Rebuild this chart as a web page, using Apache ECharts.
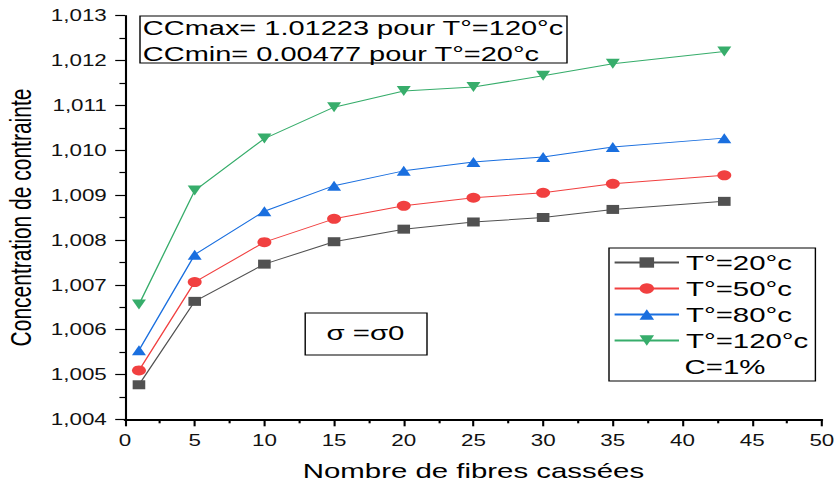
<!DOCTYPE html>
<html>
<head>
<meta charset="utf-8">
<script src="https://cdn.jsdelivr.net/npm/echarts@6/dist/echarts.min.js"></script>
<style>
html,body{margin:0;padding:0;background:#fff;}
#wrap{width:837px;height:486px;overflow:hidden;position:relative;}
#chart{height:486px;transform-origin:0 0;position:absolute;left:0;top:0;}
</style>
</head>
<body>
<div id="wrap"><div id="chart"></div></div>
<script>
// Data
var fibres = [1, 5, 10, 15, 20, 25, 30, 35, 43];
var seriesNames = ['T°=20°c', 'T°=50°c', 'T°=80°c', 'T°=120°c'];
var t20  = [1.00477, 1.00663, 1.00746, 1.00796, 1.00824, 1.00840, 1.00850, 1.00868, 1.00886];
var t50  = [1.00509, 1.00706, 1.00795, 1.00847, 1.00876, 1.00894, 1.00905, 1.00925, 1.00944];
var t80  = [1.00554, 1.00767, 1.00864, 1.00921, 1.00954, 1.00974, 1.00985, 1.01007, 1.01027];
var t120 = [1.00656, 1.00910, 1.01026, 1.01096, 1.01132, 1.01141, 1.01166, 1.01193, 1.01220];
var colors = ['#515151', '#F14040', '#1A6FDF', '#37AD6B'];
var symbols = ['rect', 'circle', 'triangle', 'triangle'];
var symbolRotates = [0, 0, 0, 180];
var annotationLines = ['CCmax= 1.01223 pour T°=120°c', 'CCmin= 0.00477 pour T°=20°c'];
var sigmaText = 'σ =σ0';
var legendExtra = 'C=1%';
var xAxisTitle = 'Nombre de fibres cassées';
var yAxisTitle = 'Concentration de contrainte';

var S = 1.4; // horizontal stretch of the reference
var W = 837 / S;
var el = document.getElementById('chart');
el.style.width = W + 'px';
el.style.transform = 'scaleX(' + S + ')';

var allValues = [t20, t50, t80, t120];
var font = 'Liberation Sans, Arial, sans-serif';

var series = allValues.map(function (vals, i) {
  return {
    name: seriesNames[i],
    type: 'line',
    data: fibres.map(function (x, j) { return [x, vals[j]]; }),
    symbol: symbols[i],
    symbolRotate: symbolRotates[i],
    symbolSize: i === 0 ? 9 : 10,
    itemStyle: { color: colors[i] },
    lineStyle: { color: colors[i], width: 1 },
    emphasis: { disabled: true },
    animation: false
  };
});

var chart = echarts.init(el, null, { renderer: 'svg' });
chart.setOption({
  backgroundColor: '#fff',
  animation: false,
  grid: { left: 89.3, right: W - 586.9, top: 15.7, bottom: 66.7, containLabel: false, outerBoundsMode: 'none' },
  xAxis: {
    type: 'value', min: 0, max: 50, interval: 5,
    name: xAxisTitle, nameLocation: 'middle', nameGap: 41,
    nameTextStyle: { fontSize: 21, color: '#000', fontFamily: font },
    axisLine: { show: true, lineStyle: { color: '#000', width: 2 } },
    axisTick: { show: true, inside: false, length: 7, lineStyle: { color: '#000', width: 1.5 } },
    minorTick: { show: true, splitNumber: 2, length: 4, lineStyle: { color: '#000', width: 1.5 } },
    splitLine: { show: false },
    axisLabel: { fontSize: 16, color: '#111', margin: 13, fontFamily: font }
  },
  yAxis: {
    type: 'value', min: 1.004, max: 1.013, interval: 0.001,
    name: yAxisTitle, nameLocation: 'middle', nameGap: 61, nameRotate: 90,
    nameTextStyle: { fontSize: 21, color: '#000', fontFamily: font },
    axisLine: { show: true, lineStyle: { color: '#000', width: 1.5 } },
    axisTick: { show: true, inside: false, length: 7, lineStyle: { color: '#000', width: 1.2 } },
    minorTick: { show: true, splitNumber: 2, length: 4, lineStyle: { color: '#000', width: 1.2 } },
    splitLine: { show: false },
    axisLabel: {
      fontSize: 16, color: '#111', margin: 13, fontFamily: font,
      formatter: function (v) { return v.toFixed(3).replace('.', ','); }
    }
  },
  legend: {
    show: true, orient: 'vertical', left: 435, top: 248,
    padding: [4, 5, 30, 3],
    borderColor: '#000', borderWidth: 1,
    itemWidth: 46, itemHeight: 13, itemGap: 5,
    textStyle: { fontSize: 21, color: '#000', fontFamily: font },
    data: seriesNames,
    selectedMode: false
  },
  graphic: [
    { type: 'rect', shape: { x: 100, y: 16, width: 305, height: 47 },
      style: { fill: 'none', stroke: '#000', lineWidth: 1 } },
    { type: 'text', x: 102, y: 28, style: { text: annotationLines[0], font: '20.7px ' + font, fill: '#000', verticalAlign: 'middle', align: 'left' } },
    { type: 'text', x: 102, y: 54, style: { text: annotationLines[1], font: '20.7px ' + font, fill: '#000', verticalAlign: 'middle', align: 'left' } },
    { type: 'rect', shape: { x: 218, y: 313, width: 87, height: 42 },
      style: { fill: 'none', stroke: '#000', lineWidth: 1 } },
    { type: 'text', x: 261, y: 333, style: { text: sigmaText, font: '21px ' + font, fill: '#000', verticalAlign: 'middle', align: 'center' } },
    { type: 'text', x: 489, y: 367, style: { text: legendExtra, font: '21px ' + font, fill: '#000', verticalAlign: 'middle', align: 'left' } }
  ],
  series: series
});
</script>
</body>
</html>
